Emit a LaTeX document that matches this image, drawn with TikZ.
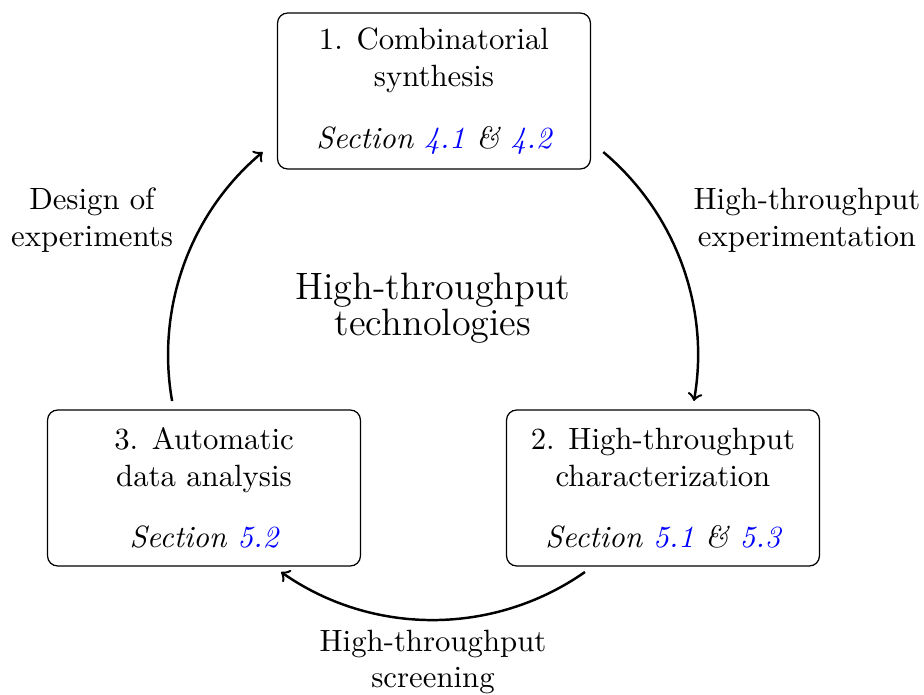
\documentclass[tikz,border=0pt]{standalone}
\usetikzlibrary{calc}
\begin{document}
\begin{tikzpicture}[x=0.325pt,y=-0.325pt,
  stagebox/.style={draw, rounded corners=3.3pt, minimum width=101.7pt, minimum height=50.7pt, align=center, inner sep=2pt, line width=0.4pt},
  cyclearrow/.style={->, thick},
  lbl/.style={align=center}]
\useasboundingbox (0,0) rectangle (924,695);
\node[stagebox] (s1) at (434,91) {1. Combinatorial\\synthesis\\[8pt]\textit{Section \textcolor{blue}{4.1} \& \textcolor{blue}{4.2}}};
\node[stagebox] (s2) at (663,488) {2. High-throughput\\characterization\\[8pt]\textit{Section \textcolor{blue}{5.1} \& \textcolor{blue}{5.3}}};
\node[stagebox] (s3) at (204,488) {3. Automatic\\data analysis\\[8pt]\textit{Section \textcolor{blue}{5.2}}};
\node[lbl, font=\fontsize{12.4}{11.6}\selectfont] (title) at (433,308) {High-throughput\\technologies};
\node[lbl] (l1) at (807,220) {High-throughput\\experimentation};
\node[lbl] (l2) at (433,662) {High-throughput\\screening};
\node[lbl] (l3) at (92,220) {Design of\\experiments};
\coordinate (ctr) at (433,355);
\coordinate (a1) at ($(ctr)+(50:86.1pt)$);
\coordinate (a2) at ($(ctr)+(-55:86.1pt)$);
\coordinate (a3) at ($(ctr)+(190:86.1pt)$);
\draw[cyclearrow] (a1) arc[start angle=50, end angle=-10, radius=86.1pt];
\draw[cyclearrow] (a2) arc[start angle=-55, end angle=-125, radius=86.1pt];
\draw[cyclearrow] (a3) arc[start angle=190, end angle=130, radius=86.1pt];
\end{tikzpicture}
\end{document}
